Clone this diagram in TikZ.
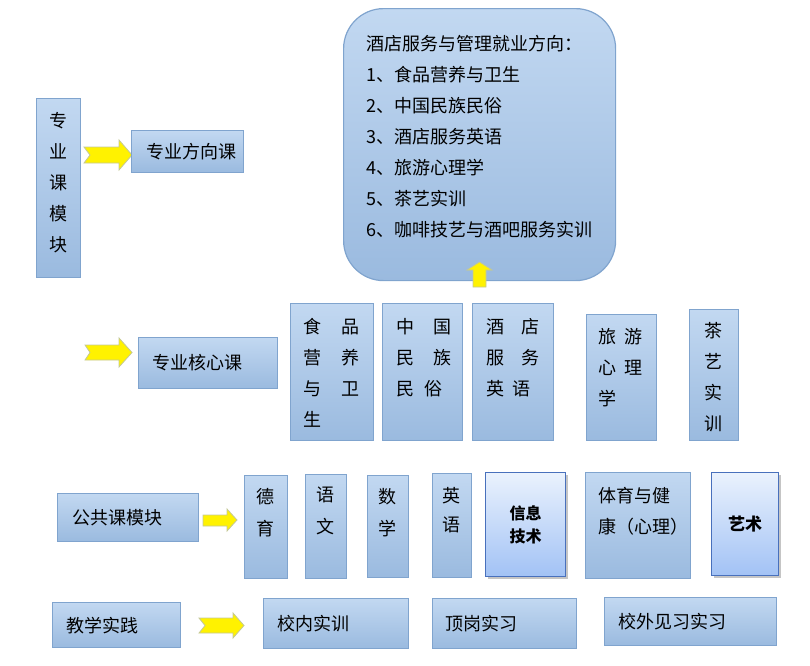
\documentclass[tikz,border=0pt]{standalone}
\usepackage{fontspec}
\setmainfont{Noto Sans CJK SC}
\usetikzlibrary{shadows}

\definecolor{coursetop}{RGB}{194,216,241}
\definecolor{coursebot}{RGB}{154,186,223}
\definecolor{courseline}{RGB}{128,164,206}
\definecolor{hitop}{RGB}{234,242,253}
\definecolor{hibot}{RGB}{162,194,245}
\definecolor{hiline}{RGB}{72,112,188}
\definecolor{arrowline}{RGB}{196,200,150}

\tikzset{
  course/.style={draw=courseline, line width=1.2pt, top color=coursetop, bottom color=coursebot, anchor=north west, inner sep=0pt},
  hicourse/.style={draw=hiline, line width=1.2pt, top color=hitop, bottom color=hibot, anchor=north west, inner sep=0pt,
    drop shadow={shadow xshift=2.5pt, shadow yshift=-2.5pt, fill=black!45}},
  cn/.style={font=\fontsize{18}{31}\selectfont, inner sep=0pt},
  cnb/.style={font=\bfseries\fontsize{16}{23}\selectfont, inner sep=0pt},
  yarrow/.style={fill=yellow, draw=arrowline, line width=0.8pt, line join=miter}
}

\begin{document}
\begin{tikzpicture}[x=1pt,y=-1pt]
\useasboundingbox (0,0) rectangle (810,665);

% 专业课模块
\node[course, minimum width=44pt, minimum height=179pt] (zyk) at (36,98) {};
\node[cn, align=center, anchor=north] (zyk-t) at (58,112) {专\\业\\课\\模\\块};
\draw[yarrow] (84,147) -- (119,147) -- (119,140) -- (132,155) -- (119,170) -- (119,163) -- (84,163) -- (90,155) -- cycle;
\node[course, cn, minimum width=112pt, minimum height=42pt, inner xsep=15pt, text width=82pt, align=left] (zyfx) at (131,130) {专业方向课};

% 就业方向
\node[course, rounded corners=40pt, minimum width=272pt, minimum height=272pt] (jyfx) at (343,8) {};
\node[cn, align=left, anchor=north west] (jyfx-t) at (366,35) {酒店服务与管理就业方向：\\1、食品营养与卫生\\2、中国民族民俗\\3、酒店服务英语\\4、旅游心理学\\5、茶艺实训\\6、咖啡技艺与酒吧服务实训};
\draw[yarrow] (473,287) -- (473,270) -- (467,270) -- (479.5,262) -- (492,270) -- (486,270) -- (486,287) -- cycle;

% 专业核心课
\draw[yarrow] (85,345) -- (119,345) -- (119,338) -- (132,352.5) -- (119,367) -- (119,360) -- (85,360) -- (90,352.5) -- cycle;
\node[course, cn, minimum width=139pt, minimum height=51pt, inner xsep=14pt, text width=111pt, align=left] (zyhx) at (138,337) {专业核心课};

\node[course, minimum width=83pt, minimum height=137pt] (spys) at (290,303) {};
\node[cn, text width=56pt, align=left, anchor=north west] (spys-t) at (303,318) {食\hfill 品\\营\hfill 养\\与\hfill 卫\\生};
\node[course, minimum width=80pt, minimum height=137pt] (zgmz) at (382,303) {};
\node[cn, text width=55pt, align=left, anchor=north west] (zgmz-t) at (396,318) {中\hfill 国\\民\hfill 族\\民\hspace{10pt}俗};
\node[course, minimum width=81pt, minimum height=137pt] (jdfw) at (472,303) {};
\node[cn, text width=53pt, align=left, anchor=north west] (jdfw-t) at (486,318) {酒\hfill 店\\服\hfill 务\\英\hspace{8pt}语};
\node[course, minimum width=70pt, minimum height=126pt] (lyxl) at (586,314) {};
\node[cn, text width=44pt, align=left, anchor=north west] (lyxl-t) at (598,328) {旅\hfill 游\\心\hfill 理\\学};
\node[course, minimum width=49pt, minimum height=131pt] (cysx) at (689,309) {};
\node[cn, align=center, anchor=north] (cysx-t) at (713.5,322) {茶\\艺\\实\\训};

% 公共课模块
\node[course, cn, minimum width=141pt, minimum height=48pt, inner xsep=15pt, text width=111pt, align=left] (ggk) at (57,493) {公共课模块};
\draw[yarrow] (203,515) -- (227,515) -- (227,509) -- (237,520) -- (227,531) -- (227,526) -- (203,526) -- cycle;

\node[course, minimum width=43pt, minimum height=103pt] (dy) at (244,475) {};
\node[cn, align=center, anchor=north, font=\fontsize{18}{32}\selectfont] (dy-t) at (265.5,488) {德\\育};
\node[course, minimum width=41pt, minimum height=104pt] (yw) at (305,474) {};
\node[cn, align=center, anchor=north, font=\fontsize{18}{32}\selectfont] (yw-t) at (325.5,487) {语\\文};
\node[course, minimum width=41pt, minimum height=102pt] (sx) at (367,475) {};
\node[cn, align=center, anchor=north, font=\fontsize{18}{32}\selectfont] (sx-t) at (387.5,488) {数\\学};
\node[course, minimum width=39pt, minimum height=104pt] (yy) at (432,473) {};
\node[cn, align=center, anchor=north, font=\fontsize{18}{29}\selectfont] (yy-t) at (451.5,487) {英\\语};
\node[hicourse, cnb, minimum width=80pt, minimum height=104pt, align=center] (xxjs) at (485,472) {信息\\技术};
\node[course, minimum width=105pt, minimum height=106pt] (tyjk) at (585,472) {};
\node[cn, align=left, anchor=north west] (tyjk-t) at (598,487) {体育与健\\康（心理）};
\node[hicourse, cnb, font=\bfseries\fontsize{17}{23}\selectfont, minimum width=67pt, minimum height=103pt, align=center] (ys) at (711,472) {艺术};

% 教学实践
\node[course, cn, minimum width=128pt, minimum height=45pt, inner xsep=14pt, text width=100pt, align=left] (jxsj) at (52,602) {教学实践};
\draw[yarrow] (199,618) -- (233,618) -- (233,613) -- (244,625.5) -- (233,638) -- (233,633) -- (199,633) -- (205,625.5) -- cycle;
\node[course, cn, minimum width=145pt, minimum height=50pt, inner xsep=14pt, text width=117pt, align=left] (xnsx) at (263,598) {校内实训};
\node[course, cn, minimum width=144pt, minimum height=50pt, inner xsep=13pt, text width=118pt, align=left] (dgsx) at (432,598) {顶岗实习};
\node[course, cn, minimum width=172pt, minimum height=48pt, inner xsep=14pt, text width=144pt, align=left] (xwjx) at (604,597) {校外见习实习};

\end{tikzpicture}
\end{document}
